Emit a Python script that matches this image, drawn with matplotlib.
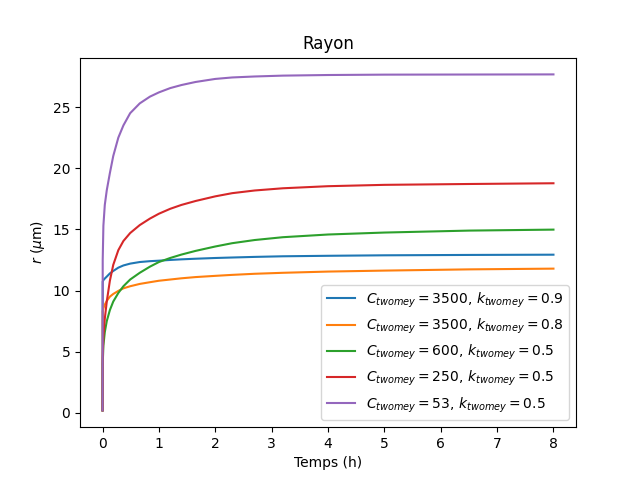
import matplotlib
matplotlib.use("Agg")
import matplotlib.pyplot as plt

t = [0, 0.003, 0.015, 0.04, 0.075, 0.13, 0.19, 0.28, 0.37, 0.49, 0.66, 0.84, 1.0,
     1.2, 1.4, 1.65, 2.0, 2.3, 2.7, 3.2, 4.0, 5.0, 6.5, 8.0]

r_3500_09 = [0.2, 10.73, 10.85, 10.98, 11.14, 11.4, 11.6, 11.87, 12.05, 12.2, 12.33, 12.4, 12.44,
             12.5, 12.55, 12.6, 12.66, 12.7, 12.75, 12.8, 12.84, 12.88, 12.91, 12.93]
r_3500_08 = [0.2, 8.3, 8.55, 8.85, 9.15, 9.5, 9.72, 9.97, 10.18, 10.35, 10.54, 10.68, 10.8,
             10.9, 11.0, 11.1, 11.2, 11.28, 11.37, 11.45, 11.55, 11.63, 11.73, 11.79]
r_600_05 = [0.2, 4.0, 5.5, 6.6, 7.5, 8.4, 9.1, 9.8, 10.35, 10.9, 11.45, 11.95, 12.33,
            12.66, 12.94, 13.24, 13.6, 13.87, 14.13, 14.36, 14.58, 14.74, 14.9, 14.98]
r_250_05 = [0.2, 4.5, 6.3, 7.7, 9.1, 10.8, 12.1, 13.3, 14.05, 14.7, 15.35, 15.88, 16.28,
            16.68, 17.0, 17.32, 17.7, 17.96, 18.18, 18.36, 18.53, 18.64, 18.71, 18.77]
r_53_05 = [0.2, 12.5, 15.3, 17.0, 18.2, 19.6, 21.0, 22.5, 23.5, 24.5, 25.3, 25.85, 26.2,
           26.55, 26.8, 27.05, 27.3, 27.42, 27.5, 27.57, 27.62, 27.65, 27.66, 27.67]

labels = [
    r"$C_{twomey} = 3500$, $k_{twomey} = 0.9$",
    r"$C_{twomey} = 3500$, $k_{twomey} = 0.8$",
    r"$C_{twomey} = 600$, $k_{twomey} = 0.5$",
    r"$C_{twomey} = 250$, $k_{twomey} = 0.5$",
    r"$C_{twomey} = 53$, $k_{twomey} = 0.5$",
]
series = [r_3500_09, r_3500_08, r_600_05, r_250_05, r_53_05]

fig, ax = plt.subplots(figsize=(6.4, 4.8), dpi=100)
for s, lab in zip(series, labels):
    ax.plot(t, s, label=lab)
ax.set_title("Rayon")
ax.set_xlabel("Temps (h)")
ax.set_ylabel(r"$r$ ($\mu$m)")
ax.legend(loc="lower right")
fig.savefig("out.png", dpi=100)
